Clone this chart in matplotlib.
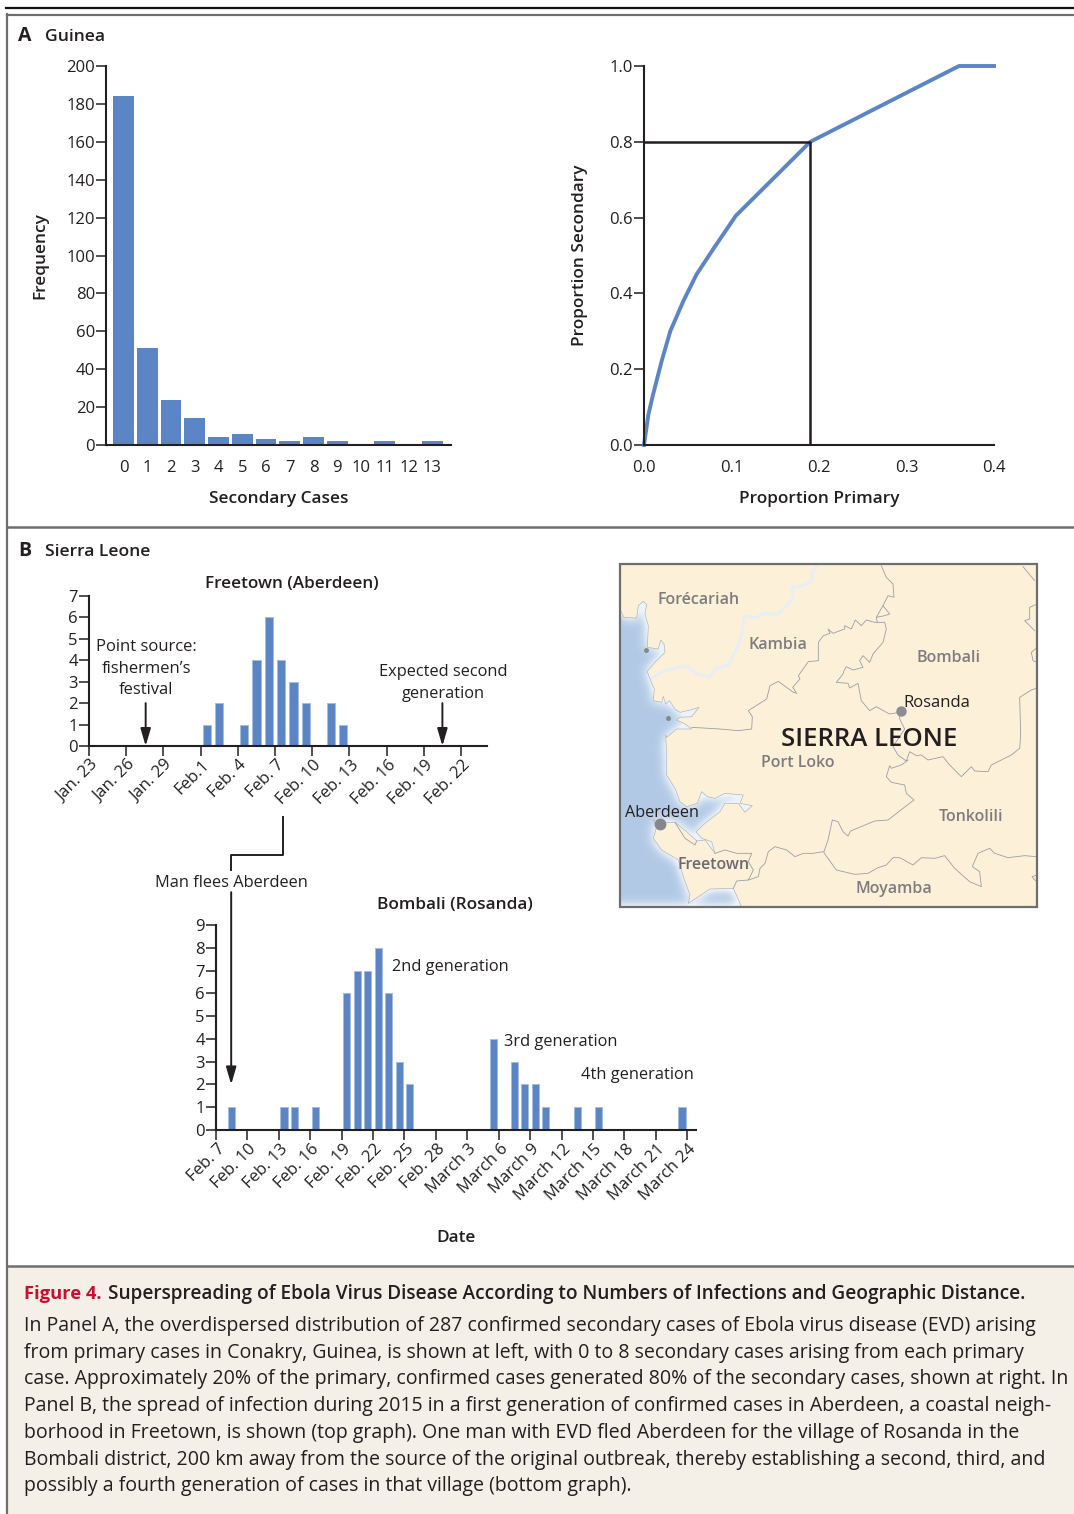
import matplotlib
matplotlib.use("Agg")
import matplotlib.pyplot as plt
import numpy as np
from matplotlib.patches import Polygon, Rectangle
from matplotlib.path import Path
from matplotlib.transforms import ScaledTranslation

W, H = 1074, 1514
FONT = "Open Sans"
plt.rcParams['font.family'] = [FONT, 'DejaVu Sans']

BLUE = "#5b85c4"
EDGE = "#a3bce2"
INK = "#231f20"
GREY = "#6e6e6e"
LABEL = "#7d7d7f"

# panel A, left
sec_cases = list(range(14))
freq = [184, 51, 24, 14, 4, 6, 3, 2, 4, 2, 0, 2, 0, 2]
freq_ticks = list(range(0, 201, 20))

# panel A, right
prop_primary = [0, 0.005, 0.01, 0.02, 0.03, 0.045, 0.06, 0.08, 0.105, 0.19, 0.36, 0.40]
prop_secondary = [0, 0.08, 0.13, 0.22, 0.30, 0.38, 0.45, 0.52, 0.605, 0.80, 1.0, 1.0]

# Freetown (days after Jan 23, bars sit mid-day)
ft_days = [9.5, 10.5, 12.5, 13.5, 14.5, 15.5, 16.5, 17.5, 19.5, 20.5]
ft_counts = [1, 2, 1, 4, 6, 4, 3, 2, 2, 1]
ft_labels = ["Jan. 23", "Jan. 26", "Jan. 29", "Feb.1", "Feb. 4", "Feb. 7", "Feb. 10",
             "Feb. 13", "Feb. 16", "Feb. 19", "Feb. 22"]

# Bombali (days after Feb 7)
bo_days = [1.5, 6.5, 7.5, 9.5, 12.5, 13.5, 14.5, 15.5, 16.5, 17.5, 18.5,
           26.5, 28.5, 29.5, 30.5, 31.5, 34.5, 36.5, 44.5]
bo_counts = [1, 1, 1, 1, 6, 7, 7, 8, 6, 3, 2, 4, 3, 2, 2, 1, 1, 1, 1]
bo_labels = ["Feb. 7", "Feb. 10", "Feb. 13", "Feb. 16", "Feb. 19", "Feb. 22", "Feb. 25", "Feb. 28",
             "March 3", "March 6", "March 9", "March 12", "March 15", "March 18", "March 21", "March 24"]


# map traced in four tiles, each tile 3x zoom of the page
def tile(ox, oy, pts):
    return [(ox + x / 3, oy + y / 3) for x, y in pts]


TA, TB, TC, TD = (620, 564), (620, 735), (828, 564), (828, 735)

sea = tile(*TA, [(0, 135), (12, 160), (50, 162), (55, 125), (70, 112), (80, 122), (75, 150), (85, 185), (82, 250),
                 (115, 255), (122, 228), (132, 240), (135, 265), (105, 295), (82, 322), (90, 345), (103, 375),
                 (100, 410), (125, 415), (130, 397), (137, 420), (148, 410), (165, 435), (180, 445), (215, 437),
                 (237, 430), (215, 458), (180, 460), (170, 468), (195, 480), (215, 495), (170, 495), (140, 520)]) \
    + tile(*TB, [(137, 0), (140, 60), (140, 120), (165, 160), (180, 200), (200, 215), (232, 205), (245, 170),
                 (262, 185), (285, 190), (315, 175), (370, 180), (360, 205), (397, 212), (375, 232), (355, 205),
                 (315, 205), (300, 230), (255, 265), (228, 290), (245, 310), (275, 320), (285, 355), (255, 315),
                 (230, 318), (200, 290), (165, 262), (130, 262), (100, 255), (110, 275), (100, 310), (125, 345),
                 (175, 375), (190, 425), (210, 480), (205, 505), (270, 462), (340, 460), (365, 516), (0, 516)])
river = tile(*TA, [(90, 345), (130, 322), (175, 310), (200, 305), (230, 330), (270, 338), (290, 312), (325, 303),
                   (350, 255), (365, 210), (375, 155), (410, 162), (430, 148), (470, 152), (500, 125), (520, 100),
                   (515, 72), (550, 65), (575, 50), (575, 30), (588, 5)])
borders = [
    tile(*TA, [(215, 490), (300, 495), (355, 500), (395, 495), (397, 458), (385, 440), (440, 405), (450, 365),
               (475, 352), (520, 385), (530, 388), (518, 370), (540, 345), (535, 335), (565, 293), (595, 290),
               (595, 235), (610, 215), (630, 208)])
    + tile(*TC, [(0, 195), (15, 208), (50, 195), (50, 185), (70, 195), (82, 168), (100, 185), (115, 168), (140, 175),
                 (170, 175), (175, 195), (165, 235), (135, 270), (125, 295), (105, 275), (95, 290), (105, 310),
                 (75, 318), (55, 308), (48, 320), (45, 330), (25, 355), (60, 358), (65, 372), (90, 358), (100, 410),
                 (125, 440), (145, 428), (175, 445), (185, 450), (215, 445), (215, 465), (230, 495)])
    + tile(*TD, [(195, 35), (210, 60), (235, 78), (245, 50), (265, 62), (280, 60), (300, 75), (345, 65), (365, 90),
                 (400, 125), (430, 95), (440, 108), (480, 110), (490, 90), (550, 60), (575, 40), (578, 0)])
    + tile(*TC, [(575, 400), (610, 378), (628, 372)]),
    tile(*TC, [(160, 5), (175, 40), (195, 60), (198, 100), (180, 95), (165, 125), (145, 160), (148, 176)]),
    tile(*TC, [(165, 125), (185, 150), (170, 155), (145, 160)]),
    tile(*TD, [(240, 75), (220, 90), (190, 100), (185, 92), (175, 125), (190, 142), (230, 150), (235, 175), (258, 195),
               (225, 220), (180, 255), (140, 258), (68, 288), (60, 303), (45, 290), (30, 260), (13, 255), (0, 315)])
    + tile(*TB, [(612, 350)]),
    tile(*TB, [(340, 460), (350, 438), (385, 435), (415, 425), (420, 400), (435, 385), (445, 350), (465, 335),
               (500, 345), (525, 365), (550, 355), (580, 355), (610, 350), (622, 368)])
    + tile(*TD, [(0, 370), (25, 405), (80, 418), (120, 415), (150, 398), (175, 390), (195, 368), (215, 368), (255, 390),
                 (280, 368), (320, 370), (350, 362), (380, 400), (425, 440), (460, 455), (455, 410), (433, 395),
                 (450, 355), (485, 340), (500, 355), (540, 368), (590, 362), (625, 365)]),
    tile(*TD, [(628, 420), (612, 425), (620, 435), (628, 440)]),
    tile(*TB, [(165, 262), (195, 310), (225, 330), (230, 318)]),
    tile(*TB, [(285, 355), (315, 345), (350, 355), (395, 355), (385, 380), (400, 405), (385, 435)]),
    tile(*TC, [(585, 8), (620, 50)]),
    tile(*TC, [(628, 120), (605, 130), (605, 165), (590, 170), (620, 200)]),
    tile(*TC, [(628, 250), (610, 265), (615, 290), (628, 295)]),
]

caption_title = "Superspreading of Ebola Virus Disease According to Numbers of Infections and Geographic Distance."
caption_lines = [
    "In Panel A, the overdispersed distribution of 287 confirmed secondary cases of Ebola virus disease (EVD) arising",
    "from primary cases in Conakry, Guinea, is shown at left, with 0 to 8 secondary cases arising from each primary",
    "case. Approximately 20% of the primary, confirmed cases generated 80% of the secondary cases, shown at right. In",
    "Panel B, the spread of infection during 2015 in a first generation of confirmed cases in Aberdeen, a coastal neigh-",
    "borhood in Freetown, is shown (top graph). One man with EVD fled Aberdeen for the village of Rosanda in the",
    "Bombali district, 200 km away from the source of the original outbreak, thereby establishing a second, third, and",
    "possibly a fourth generation of cases in that village (bottom graph).",
]

ARROW = dict(arrowstyle="-|>,head_length=0.75,head_width=0.22", color=INK, lw=1.4, shrinkA=0, shrinkB=0, mutation_scale=14)


def px_axes(x0, x1, ytop, ybot):
    ax = fig.add_axes([x0 / W, 1 - ybot / H, (x1 - x0) / W, (ybot - ytop) / H])
    ax.patch.set_visible(False)
    for s in ["top", "right"]:
        ax.spines[s].set_visible(False)
    for s in ["left", "bottom"]:
        ax.spines[s].set_linewidth(1.5)
        ax.spines[s].set_color(INK)
    ax.tick_params(length=7, width=1.1, color=INK, labelcolor=INK, labelsize=12, pad=1)
    return ax


def blur(a, n=11, passes=3):
    kernel = np.ones(n) / n
    pad = n * passes
    a = np.pad(a, pad, mode="edge")
    for _ in range(passes):
        a = np.apply_along_axis(lambda r: np.convolve(r, kernel, mode="same"), 0, a)
        a = np.apply_along_axis(lambda r: np.convolve(r, kernel, mode="same"), 1, a)
    return a[pad:-pad, pad:-pad]


fig = plt.figure(figsize=(W / 100, H / 100), dpi=100)

# page furniture drawn in pixel coordinates
bg = fig.add_axes([0, 0, 1, 1], zorder=-1)
bg.set_xlim(0, W)
bg.set_ylim(H, 0)
bg.axis("off")
bg.add_patch(Rectangle((7, 1267), W, H - 1267, fc="#f4f0e8", ec="none"))
bg.plot([6, W], [8, 8], color="#111111", lw=1.6)
bg.plot([7, W], [14.5, 14.5], color=GREY, lw=1.6)
bg.plot([7, W], [527, 527], color=GREY, lw=1.8)
bg.plot([7, W], [1266, 1266], color=GREY, lw=1.8)
bg.plot([7, 7], [14, H], color=GREY, lw=1.6)

bg.text(18, 36, "A", fontsize=14, fontweight="bold", color=INK, va="center")
bg.text(45, 37, "Guinea", fontsize=12.6, fontweight="semibold", color=INK, va="center")
bg.text(18, 551, "B", fontsize=14, fontweight="bold", color=INK, va="center")
bg.text(45, 552, "Sierra Leone", fontsize=12.6, fontweight="semibold", color=INK, va="center")

# panel A left
ax = px_axes(106, 451, 66, 445)
ax.bar(sec_cases, freq, width=0.88, color=BLUE)
ax.set_xlim(-0.737, 13.79)
ax.set_ylim(0, 200)
ax.set_yticks(freq_ticks)
ax.set_xticks(sec_cases)
ax.tick_params(axis="x", length=0, pad=10.5)
ax.set_xlabel("Secondary Cases", fontsize=12.4, fontweight="semibold", color=INK, labelpad=11)
ax.set_ylabel("Frequency", fontsize=12.4, fontweight="semibold", color=INK, labelpad=13)

# panel A right
ax = px_axes(644, 994, 66, 445)
ax.plot(prop_primary, prop_secondary, color=BLUE, lw=2.8, solid_joinstyle="round", clip_on=False)
ax.plot([0, 0.19, 0.19], [0.8, 0.8, 0], color=INK, lw=1.8)
ax.set_xlim(0, 0.4)
ax.set_ylim(0, 1)
ax.set_xticks([0, 0.1, 0.2, 0.3, 0.4])
ax.set_yticks([0, 0.2, 0.4, 0.6, 0.8, 1.0])
ax.xaxis.set_major_formatter("{x:.1f}")
ax.yaxis.set_major_formatter("{x:.1f}")
ax.tick_params(axis="x", length=0, pad=10.5)
ax.set_xlabel("Proportion Primary", fontsize=12.4, fontweight="semibold", color=INK, labelpad=11)
ax.set_ylabel("Proportion Secondary", fontsize=12.4, fontweight="semibold", color=INK, labelpad=15)

off = ScaledTranslation(1 / 100, 0, fig.dpi_scale_trans)

# Freetown
ax = px_axes(89, 487, 596, 746)
ax.bar(ft_days, ft_counts, width=0.68, color=BLUE, edgecolor=EDGE, linewidth=0.7)
ax.set_xlim(0, (487 - 89) / 12.4)
ax.set_ylim(0, 7)
ax.set_yticks(range(8))
ax.set_xticks(range(0, 31, 3))
ax.set_xticklabels(ft_labels, rotation=45, ha="right", va="top", rotation_mode="anchor")
for t in ax.get_xticklabels():
    t.set_transform(t.get_transform() + off)
ax.annotate("", xy=(4.57, 0), xytext=(4.57, 2), arrowprops=ARROW)
ax.annotate("", xy=(28.5, 0), xytext=(28.5, 2), arrowprops=ARROW)

# Bombali
ax = px_axes(216, 696, 925, 1130)
ax.bar(bo_days, bo_counts, width=0.69, color=BLUE, edgecolor=EDGE, linewidth=0.7)
ax.set_xlim(0, (696 - 216) / 10.47)
ax.set_ylim(0, 9)
ax.set_yticks(range(10))
ax.set_xticks(range(0, 46, 3))
ax.set_xticklabels(bo_labels, rotation=45, ha="right", va="top", rotation_mode="anchor")
for t in ax.get_xticklabels():
    t.set_transform(t.get_transform() + off)
ax.annotate("", xy=(1.45, 2), xytext=(1.45, 10.44), arrowprops=ARROW, annotation_clip=False)

# connector and panel B labels
bg.plot([283, 283, 231, 231], [817, 855, 855, 870], color=INK, lw=1.4)
for x, y, s, fs, fw, ha in [
    (292, 584, "Freetown (Aberdeen)", 12.3, "semibold", "center"),
    (146, 647, "Point source:", 12, "normal", "center"),
    (146, 669, "fishermen\u2019s", 12, "normal", "center"),
    (146, 690, "festival", 12, "normal", "center"),
    (443, 672, "Expected second", 11.8, "normal", "center"),
    (443, 694, "generation", 11.8, "normal", "center"),
    (231, 883, "Man flees Aberdeen", 11.8, "normal", "center"),
    (455, 905, "Bombali (Rosanda)", 12.4, "semibold", "center"),
    (392, 967, "2nd generation", 11.8, "normal", "left"),
    (504, 1042, "3rd generation", 11.8, "normal", "left"),
    (581, 1075, "4th generation", 11.8, "normal", "left"),
    (456, 1238, "Date", 12.4, "semibold", "center"),
]:
    bg.text(x, y, s, fontsize=fs, fontweight=fw, ha=ha, va="center", color=INK)

# map: cream land, sea fading to white along the coast
bg.add_patch(Rectangle((620, 564), 417, 343, fc="#fdf0d8", ec="none", zorder=1))
mx, my = np.meshgrid(np.arange(620, 1038) + 0.5, np.arange(564, 908) + 0.5)
inside = Path(sea).contains_points(np.column_stack([mx.ravel(), my.ravel()])).reshape(mx.shape)
depth = np.clip((blur(inside.astype(float)) - 0.5) * 2, 0, 1)
rgba = np.zeros(mx.shape + (4,))
shore, deep = np.array([0.93, 0.955, 0.98]), np.array([0.70, 0.79, 0.90])
for k in range(3):
    rgba[..., k] = shore[k] + (deep[k] - shore[k]) * depth
rgba[..., 3] = inside
bg.imshow(rgba, extent=(620, 1038, 908, 564), zorder=2, interpolation="bilinear", aspect="auto")
bg.set_xlim(0, W)
bg.set_ylim(H, 0)
bg.plot(*zip(*river), color="#e6eef7", lw=2.0, zorder=2.2)
bg.plot(*zip(*sea), color="#aab0ba", lw=0.45, zorder=2.3)
for b in borders:
    bg.plot(*zip(*b), color="#9a9ea6", lw=0.6, zorder=3)
bg.add_patch(Rectangle((620, 564), 417, 343, fc="none", ec=GREY, lw=1.6, zorder=5))
bg.plot([900.5], [710.5], "o", color="#8b8d92", ms=6.5, zorder=4)
bg.plot([659.5], [823.5], "o", color="#85878b", ms=7.5, zorder=4)
bg.plot([646], [649.5], "o", color="#85878b", ms=2.5, zorder=4)
bg.plot([668], [717.5], "o", color="#85878b", ms=2.5, zorder=4)
for x, y, s, fs, c, fw in [
    (699, 600, "For\u00e9cariah", 11.5, LABEL, "semibold"),
    (778, 645, "Kambia", 11.5, LABEL, "semibold"),
    (949, 658, "Bombali", 11.5, LABEL, "semibold"),
    (937, 703, "Rosanda", 12, INK, "normal"),
    (869, 739, "SIERRA LEONE", 18.6, INK, "semibold"),
    (798, 763, "Port Loko", 11.5, LABEL, "semibold"),
    (971, 817, "Tonkolili", 11.5, LABEL, "semibold"),
    (662, 813, "Aberdeen", 11.6, INK, "normal"),
    (714, 865, "Freetown", 11.5, "#6b6b6d", "semibold"),
    (894, 889, "Moyamba", 11.5, LABEL, "semibold"),
]:
    bg.text(x, y, s, fontsize=fs, color=c, fontweight=fw, ha="center", va="center", zorder=6)

# caption
bg.text(24, 1294, "Figure 4.", fontsize=13.2, fontweight="bold", color="#c8102e", va="center")
bg.text(108, 1294, caption_title, fontsize=13.68, fontweight="semibold", color=INK, va="center")
for i, line in enumerate(caption_lines):
    bg.text(24, 1326 + i * 26.7, line, fontsize=14.05, color=INK, va="center")

fig.savefig("out.png", dpi=100)
